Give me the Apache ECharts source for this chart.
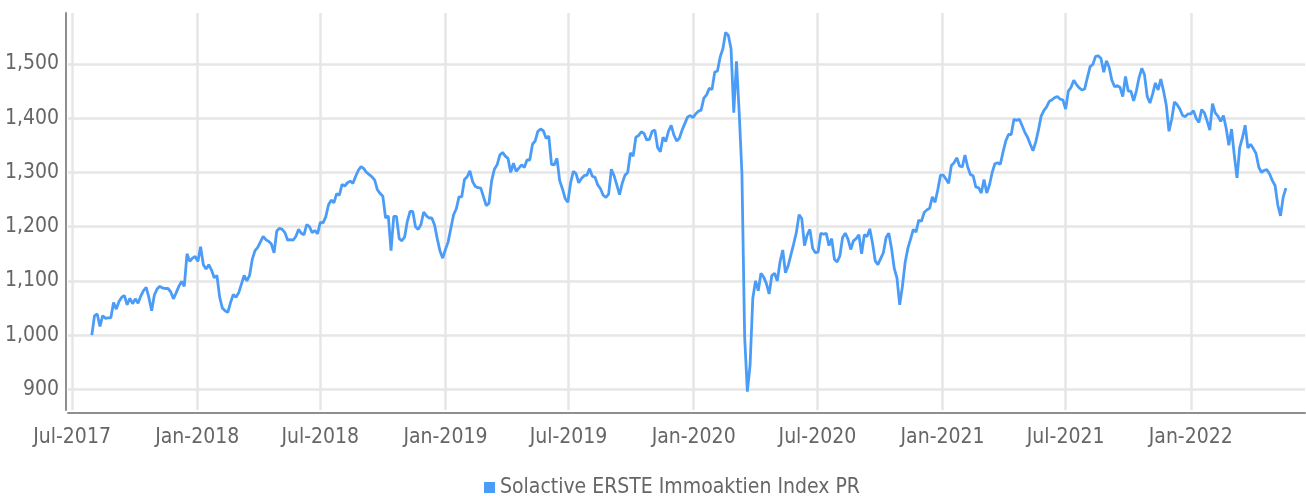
<!DOCTYPE html>
<html>
<head>
<meta charset="utf-8">
<script src="https://cdn.jsdelivr.net/npm/echarts@6/dist/echarts.min.js"></script>
<style>
  html, body { margin: 0; padding: 0; background: #ffffff; }
  #chart { width: 1306px; height: 496px; }
</style>
</head>
<body>
<div id="chart"></div>
<script>
// Index level series: one reading every 4 calendar days from firstDate
const seriesName = 'Solactive ERSTE Immoaktien Index PR';
const firstDate = '2017-07-30';
const stepDays = 4;
const indexLevels = [
  1000,1036,1039,1016,1036,1031,1032,1032,1060,1048,
  1062,1070,1073,1056,1068,1058,1067,1059,1072,1082,
  1088,1069,1045,1074,1085,1090,1087,1086,1086,1080,
  1067,1078,1090,1099,1090,1150,1136,1142,1145,1136,
  1163,1130,1122,1130,1120,1106,1110,1070,1050,1045,
  1042,1060,1075,1070,1078,1094,1110,1100,1110,1140,
  1156,1162,1172,1182,1176,1173,1168,1152,1192,1197,
  1195,1189,1175,1176,1175,1182,1195,1188,1185,1204,
  1200,1189,1193,1187,1208,1207,1218,1240,1249,1244,
  1261,1258,1278,1275,1281,1284,1280,1293,1304,1311,
  1307,1300,1296,1292,1286,1268,1261,1256,1216,1220,
  1156,1219,1219,1178,1174,1181,1210,1228,1228,1200,
  1195,1204,1227,1220,1216,1216,1203,1178,1155,1142,
  1158,1172,1197,1222,1233,1255,1255,1287,1292,1303,
  1283,1274,1272,1271,1255,1239,1243,1285,1306,1314,
  1332,1337,1330,1326,1300,1317,1302,1308,1314,1309,
  1323,1323,1352,1358,1376,1380,1377,1363,1367,1315,
  1314,1326,1285,1270,1252,1245,1280,1302,1298,1281,
  1289,1294,1295,1307,1293,1291,1277,1270,1258,1254,
  1260,1306,1294,1277,1259,1280,1295,1300,1336,1330,
  1365,1368,1375,1372,1360,1361,1376,1378,1346,1338,
  1365,1357,1376,1387,1369,1358,1363,1378,1390,1402,
  1405,1401,1408,1413,1415,1437,1443,1455,1453,1485,
  1487,1513,1528,1558,1553,1528,1410,1505,1410,1298,
  997,896,945,1068,1100,1082,1114,1107,1095,1076,
  1110,1114,1100,1135,1157,1115,1128,1148,1168,1189,
  1222,1215,1165,1185,1195,1160,1152,1153,1188,1186,
  1188,1165,1178,1140,1135,1146,1180,1188,1177,1158,
  1174,1178,1185,1150,1185,1182,1196,1170,1137,1130,
  1141,1152,1180,1188,1160,1123,1105,1056,1090,1134,
  1160,1177,1195,1190,1212,1210,1226,1231,1234,1255,
  1245,1268,1295,1295,1288,1280,1313,1318,1327,1312,
  1310,1332,1310,1296,1294,1273,1272,1262,1287,1262,
  1277,1300,1316,1318,1315,1338,1358,1370,1370,1398,
  1396,1398,1386,1374,1365,1352,1340,1356,1378,1404,
  1414,1421,1431,1434,1438,1440,1435,1434,1417,1450,
  1457,1470,1462,1456,1452,1454,1475,1495,1499,1514,
  1515,1510,1485,1506,1494,1470,1458,1460,1457,1440,
  1477,1450,1450,1432,1450,1475,1492,1480,1440,1428,
  1445,1465,1452,1472,1450,1424,1376,1398,1430,1425,
  1417,1405,1403,1408,1408,1414,1400,1392,1416,1410,
  1395,1378,1427,1410,1404,1394,1405,1382,1350,1380,
  1332,1290,1346,1364,1387,1345,1352,1344,1335,1310,
  1300,1304,1305,1297,1285,1276,1240,1220,1255,1271
];

// Half-year ticks along the date axis
const tickDates = [
  '2017-07-01', '2018-01-01', '2018-07-01', '2019-01-01', '2019-07-01',
  '2020-01-01', '2020-07-01', '2021-01-01', '2021-07-01', '2022-01-01'
];
const tickLabels = [
  'Jul-2017', 'Jan-2018', 'Jul-2018', 'Jan-2019', 'Jul-2019',
  'Jan-2020', 'Jul-2020', 'Jan-2021', 'Jul-2021', 'Jan-2022'
];
const axisStart = '2017-06-25';
const axisEnd = '2022-06-18';

const DAY = 86400000;
const toTime = d => Date.parse(d + 'T00:00:00Z');
const t0 = toTime(firstDate);
const points = indexLevels.map((v, i) => [t0 + i * stepDays * DAY, v]);
const tickTimes = tickDates.map(toTime);

const FONT = "'Liberation Sans Narrow', 'DejaVu Sans Condensed', 'Roboto Condensed', 'Liberation Sans', sans-serif";
const FONT_SIZE = 21;
const TEXT_COLOR = '#666666';
const GRID_COLOR = '#e6e6e6';
const LINE_COLOR = '#4b9cf7';

const chart = echarts.init(document.getElementById('chart'), null, { renderer: 'canvas' });
chart.setOption({
  animation: false,
  backgroundColor: '#ffffff',
  grid: { left: 68, right: 1, top: 13, bottom: 86, containLabel: false, outerBoundsMode: 'none' },
  legend: {
    data: [seriesName],
    left: 479,
    top: 472,
    icon: 'rect',
    itemWidth: 11,
    itemHeight: 11,
    textStyle: { color: TEXT_COLOR, fontSize: FONT_SIZE, fontFamily: FONT }
  },
  xAxis: {
    type: 'value',
    min: toTime(axisStart),
    max: toTime(axisEnd),
    offset: 3,
    axisLine: { show: true, lineStyle: { color: '#8f8f8f', width: 2 } },
    axisTick: { show: false, customValues: tickTimes },
    axisLabel: {
      customValues: tickTimes,
      formatter: v => {
        const k = tickTimes.findIndex(t => Math.abs(t - v) < DAY);
        return k >= 0 ? tickLabels[k] : '';
      },
      color: TEXT_COLOR,
      fontSize: FONT_SIZE,
      fontFamily: FONT,
      margin: 14,
      hideOverlap: false
    },
    splitLine: { show: true, lineStyle: { color: GRID_COLOR, width: 2.5 } }
  },
  yAxis: {
    type: 'value',
    min: 862,
    max: 1594,
    splitNumber: 7,
    offset: 2,
    axisLine: { show: true, lineStyle: { color: '#8f8f8f', width: 2 } },
    axisTick: { show: false },
    axisLabel: {
      showMinLabel: false,
      showMaxLabel: false,
      formatter: v => v.toLocaleString('en-US'),
      color: TEXT_COLOR,
      fontSize: FONT_SIZE,
      fontFamily: FONT,
      margin: 7
    },
    splitLine: {
      show: true,
      showMinLine: false,
      showMaxLine: false,
      lineStyle: { color: GRID_COLOR, width: 2.5 }
    }
  },
  series: [{
    type: 'line',
    name: seriesName,
    data: points,
    showSymbol: false,
    symbol: 'none',
    lineStyle: { color: LINE_COLOR, width: 2.8 },
    itemStyle: { color: LINE_COLOR }
  }]
});
</script>
</body>
</html>
